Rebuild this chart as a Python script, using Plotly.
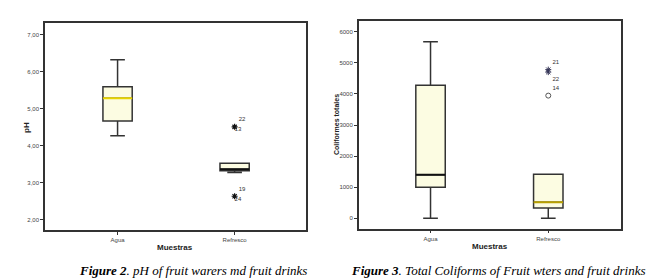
import plotly.graph_objects as go

W, H = 658, 280

categories = ["Agua", "Refresco"]

# Figure 2: pH
ph_lower = [4.27, 3.28]
ph_q1 = [4.67, 3.33]
ph_median = [5.28, 3.37]
ph_q3 = [5.59, 3.53]
ph_upper = [6.32, 3.53]
ph_out_cat = ["Refresco", "Refresco"]
ph_out_val = [4.51, 2.64]
ph_out_label_top = ["22", "19"]
ph_out_label_bot = ["13", "24"]
ph_ticks = [2, 3, 4, 5, 6, 7]
ph_ticktext = ["2,00", "3,00", "4,00", "5,00", "6,00", "7,00"]

# Figure 3: total coliforms
col_lower = [0, 0]
col_q1 = [1000, 330]
col_median = [1400, 520]
col_q3 = [4280, 1415]
col_upper = [5680, 1415]
col_star_cat = ["Refresco", "Refresco"]
col_star_val = [4780, 4700]
col_star_labels = ["21", "22"]
col_circle_cat = ["Refresco"]
col_circle_val = [3945]
col_circle_labels = ["14"]
col_ticks = [0, 1000, 2000, 3000, 4000, 5000, 6000]
col_ticktext = ["0", "1000", "2000", "3000", "4000", "5000", "6000"]

median_colors_ph = ["#e8d400", "#111111"]
median_colors_col = ["#111111", "#b8a000"]

FONT = "Liberation Sans"
BOXFILL = "#fcfce2"
BW = 0.25

fig = go.Figure()


def add_boxes(xa, ya, lower, q1, med, q3, upper, med_colors):
    fig.add_trace(go.Box(
        x=categories, lowerfence=lower, q1=q1, median=med, q3=q3, upperfence=upper,
        xaxis=xa, yaxis=ya, width=BW, whiskerwidth=0.5,
        fillcolor=BOXFILL, line=dict(color="#333333", width=1.5),
        hoverinfo="skip", showlegend=False))
    for c, m, mc in zip(categories, med, med_colors):
        fig.add_trace(go.Box(
            x=[c], lowerfence=[m], q1=[m], median=[m], q3=[m], upperfence=[m],
            xaxis=xa, yaxis=ya, width=BW, whiskerwidth=0,
            fillcolor="rgba(0,0,0,0)", line=dict(color=mc, width=2),
            hoverinfo="skip", showlegend=False))


add_boxes("x", "y", ph_lower, ph_q1, ph_median, ph_q3, ph_upper, median_colors_ph)
add_boxes("x2", "y2", col_lower, col_q1, col_median, col_q3, col_upper, median_colors_col)

lab_font = dict(family=FONT, size=6, color="#333333")

# pH outliers (stars) with two labels each
fig.add_trace(go.Scatter(
    x=ph_out_cat, y=ph_out_val, mode="markers+text", text=ph_out_label_top,
    textposition="top right", textfont=lab_font,
    marker=dict(symbol="asterisk-open", size=5, color="#111111",
                line=dict(color="#111111", width=1.2)),
    xaxis="x", yaxis="y", showlegend=False, hoverinfo="skip"))
fig.add_trace(go.Scatter(
    x=ph_out_cat, y=ph_out_val, mode="text", text=ph_out_label_bot,
    textposition="bottom right", textfont=lab_font,
    xaxis="x", yaxis="y", showlegend=False, hoverinfo="skip"))

# coliform outliers
fig.add_trace(go.Scatter(
    x=col_star_cat, y=col_star_val, mode="markers+text", text=col_star_labels,
    textposition=["top right", "bottom right"], textfont=lab_font,
    marker=dict(symbol="asterisk-open", size=5, color="#333355",
                line=dict(color="#333355", width=1)),
    xaxis="x2", yaxis="y2", showlegend=False, hoverinfo="skip"))
fig.add_trace(go.Scatter(
    x=col_circle_cat, y=col_circle_val, mode="markers+text", text=col_circle_labels,
    textposition="top right", textfont=lab_font,
    marker=dict(symbol="circle-open", size=5, color="#555555",
                line=dict(color="#555555", width=1)),
    xaxis="x2", yaxis="y2", showlegend=False, hoverinfo="skip"))

tickfont = dict(family=FONT, size=6, color="#444444")
axis_common = dict(showgrid=False, zeroline=False, showline=True, mirror=True,
                   linecolor="#333333", linewidth=1.5, ticks="outside", ticklen=3,
                   tickcolor="#333333", tickfont=tickfont)

fig.update_layout(
    width=W, height=H, margin=dict(l=0, r=0, t=0, b=0),
    paper_bgcolor="white", plot_bgcolor="white", boxmode="overlay",
    showlegend=False,
    xaxis=dict(domain=[37 / W, 298 / W], anchor="y", type="category",
               range=[-0.62, 1.61], categoryorder="array", categoryarray=categories,
               **axis_common),
    yaxis=dict(domain=[1 - 222 / H, 1 - 15 / H], anchor="x", range=[1.73, 7.31],
               tickvals=ph_ticks, ticktext=ph_ticktext, **axis_common),
    xaxis2=dict(domain=[350.7 / W, 612.7 / W], anchor="y2", type="category",
                range=[-0.61, 1.615], categoryorder="array", categoryarray=categories,
                **axis_common),
    yaxis2=dict(domain=[1 - 220.7 / H, 1 - 13.3 / H], anchor="x2", range=[-334, 6334],
                tickvals=col_ticks, ticktext=col_ticktext, **axis_common),
)

title_font = dict(family=FONT, size=8, color="#222222")
cap_font = dict(family="Liberation Serif", size=13, color="black")
ann = [
    dict(text="<b>pH</b>", x=18 / W, y=1 - 120 / H, textangle=-90, font=title_font),
    dict(text="<b>Muestras</b>", x=167 / W, y=1 - 239 / H, font=title_font),
    dict(text="<b>Coliformes totales</b>", x=328 / W, y=1 - 117 / H, textangle=-90,
         font=dict(family=FONT, size=7, color="#222222")),
    dict(text="<b>Muestras</b>", x=482 / W, y=1 - 238 / H, font=title_font),
    dict(text="<b><i>Figure 2</i></b><i>. pH of fruit warers md fruit drinks</i>",
         x=185 / W, y=1 - 262 / H, font=cap_font),
    dict(text="<b><i>Figure 3</i></b><i>. Total Coliforms of Fruit wters and fruit drinks</i>",
         x=490 / W, y=1 - 262 / H, font=cap_font),
]
for a in ann:
    fig.add_annotation(xref="paper", yref="paper", showarrow=False,
                       xanchor="center", yanchor="middle", **a)

fig.write_html("out.html")
